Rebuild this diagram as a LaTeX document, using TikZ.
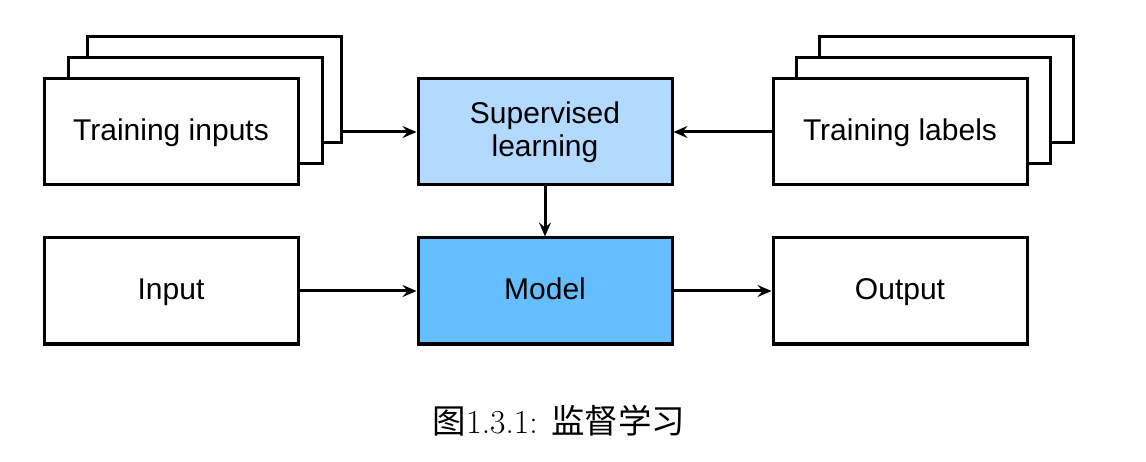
\documentclass[tikz,border=0pt]{standalone}
\usepackage{fontspec}
\newfontfamily\arial{Liberation Sans}
\newfontfamily\cjk{Noto Sans CJK SC}
\usetikzlibrary{arrows.meta}
\definecolor{suplight}{RGB}{179,217,255}
\definecolor{modelblue}{RGB}{100,190,255}
\begin{document}
\begin{tikzpicture}[x=1pt,y=-1pt,
  box/.style={draw=black,line width=3pt,fill=white,minimum width=254pt,minimum height=106pt,inner sep=0pt,font=\arial\fontsize{30}{33}\selectfont,align=center,text height=22pt,text depth=4pt},
  twoline/.style={text height=,text depth=},
  arr/.style={line width=3pt,-{Stealth[length=14pt,width=12pt,inset=5pt]}}]
\useasboundingbox (0,0) rectangle (1146,462);
% training inputs stack
\node[box] (tib) at (214,90) {};
\node[box] (tim) at (195,111) {};
\node[box] (ti) at (171,132) {Training inputs};
% training labels stack
\node[box] (tlb) at (946,90) {};
\node[box] (tlm) at (923,111) {};
\node[box] (tl) at (900,132) {Training labels};
% center
\node[box,twoline,fill=suplight] (sup) at (545,132) {Supervised\\learning};
\node[box,fill=modelblue] (model) at (545,291) {Model};
\node[box] (in) at (171,291) {Input};
\node[box] (out) at (900,291) {Output};
% arrows
\draw[arr] (sup.west -| tib.east) -- (sup.west);
\draw[arr] (tl.west) -- (sup.east);
\draw[arr] (sup.south) -- (model.north);
\draw[arr] (in.east) -- (model.west);
\draw[arr] (model.east) -- (out.west);
% caption
\node[font=\fontsize{33.5}{38}\selectfont] (cap) at (559,421) {{\cjk 图}1.3.1: {\cjk 监督学习}};
\end{tikzpicture}
\end{document}
